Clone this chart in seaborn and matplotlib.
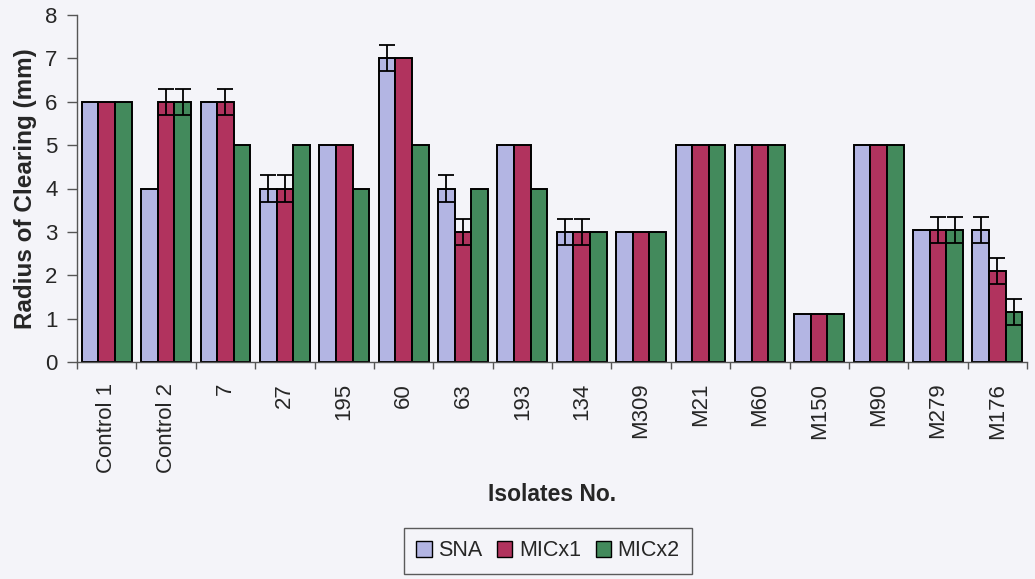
import numpy as np
import pandas as pd
import matplotlib
matplotlib.use("Agg")
import matplotlib.pyplot as plt
import seaborn as sns

isolates = ["Control 1", "Control 2", "7", "27", "195", "60", "63", "193",
            "134", "M309", "M21", "M60", "M150", "M90", "M279", "M176"]
treatments = ["SNA", "MICx1", "MICx2"]

sna = [6, 4, 6, 4, 5, 7, 4, 5, 3, 3, 5, 5, 1.1, 5, 3.05, 3.05]
mic_x1 = [6, 6, 6, 4, 5, 7, 3, 5, 3, 3, 5, 5, 1.1, 5, 3.05, 2.1]
mic_x2 = [6, 6, 5, 5, 4, 5, 4, 4, 3, 3, 5, 5, 1.1, 5, 3.05, 1.15]

# standard errors (0 = no bar drawn)
sna_err = [0, 0, 0, 0.3, 0, 0.3, 0.3, 0, 0.3, 0, 0, 0, 0, 0, 0, 0.3]
mic_x1_err = [0, 0.3, 0.3, 0.3, 0, 0, 0.3, 0, 0.3, 0, 0, 0, 0, 0, 0.3, 0.3]
mic_x2_err = [0, 0.3, 0, 0, 0, 0, 0, 0, 0, 0, 0, 0, 0, 0, 0.3, 0.3]

colors = ["#b3b5e3", "#b1335e", "#438a5c"]
bg = "#f4f4f9"

df = pd.DataFrame({
    "Isolate": isolates * 3,
    "Radius": sna + mic_x1 + mic_x2,
    "Treatment": np.repeat(treatments, len(isolates)),
})
errors = [sna_err, mic_x1_err, mic_x2_err]

sns.set_theme(style="white")
plt.rcParams["font.family"] = ["Liberation Sans", "DejaVu Sans"]

fig = plt.figure(figsize=(10.35, 5.79), dpi=100, facecolor=bg)
ax = fig.add_axes([77 / 1035, 1 - 362 / 579, 950 / 1035, 347 / 579])
ax.set_facecolor(bg)

sns.barplot(data=df, x="Isolate", y="Radius", hue="Treatment",
            order=isolates, hue_order=treatments, palette=colors,
            edgecolor="black", linewidth=1.4, width=0.84, errorbar=None,
            saturation=1, ax=ax)

# error bars at the centre of each bar
for container, err in zip(ax.containers, errors):
    for patch, e in zip(container.patches, err):
        if e > 0:
            xc = patch.get_x() + patch.get_width() / 2
            ax.errorbar(xc, patch.get_height(), yerr=e, fmt="none",
                        ecolor="black", elinewidth=1.3, capsize=6,
                        capthick=1.3, zorder=5)

ax.set_ylim(0, 8)
ax.set_xlim(-0.5, len(isolates) - 0.5)
ax.set_yticks(range(0, 9))
ax.tick_params(axis="y", labelsize=16, length=7, width=1, color="#555555",
               direction="out", left=True, pad=7)
ax.tick_params(axis="x", labelsize=16, length=0, pad=15)
plt.setp(ax.get_xticklabels(), rotation=90)
ax.set_xticks(np.arange(-0.5, len(isolates)), minor=True)
ax.tick_params(axis="x", which="minor", length=5, width=1, color="#555555",
               bottom=True, direction="out")

for side in ["top", "right"]:
    ax.spines[side].set_visible(False)
for side in ["left", "bottom"]:
    ax.spines[side].set_color("#555555")
    ax.spines[side].set_linewidth(1)

ax.set_ylabel("Radius of Clearing (mm)", fontsize=17.5, fontweight="bold")
ax.yaxis.set_label_coords(-0.042, 0.5)
ax.set_xlabel("Isolates No.", fontsize=16.5, fontweight="bold")
ax.xaxis.set_label_coords(0.5, -0.35)

ax.legend_.remove()
handles = [plt.Rectangle((0, 0), 1, 1, facecolor=c, edgecolor="black",
                         linewidth=1) for c in colors]
leg = fig.legend(handles, treatments, loc="center", ncol=3,
                 bbox_to_anchor=(548 / 1035, 1 - 551 / 579), fontsize=15.5,
                 frameon=True, fancybox=False, handlelength=0.7,
                 handleheight=0.7, handletextpad=0.3, columnspacing=0.7,
                 borderpad=0.6)
leg.get_frame().set_edgecolor("#333333")
leg.get_frame().set_linewidth(1)
leg.get_frame().set_facecolor(bg)

fig.savefig("out.png", dpi=100, facecolor=bg)
